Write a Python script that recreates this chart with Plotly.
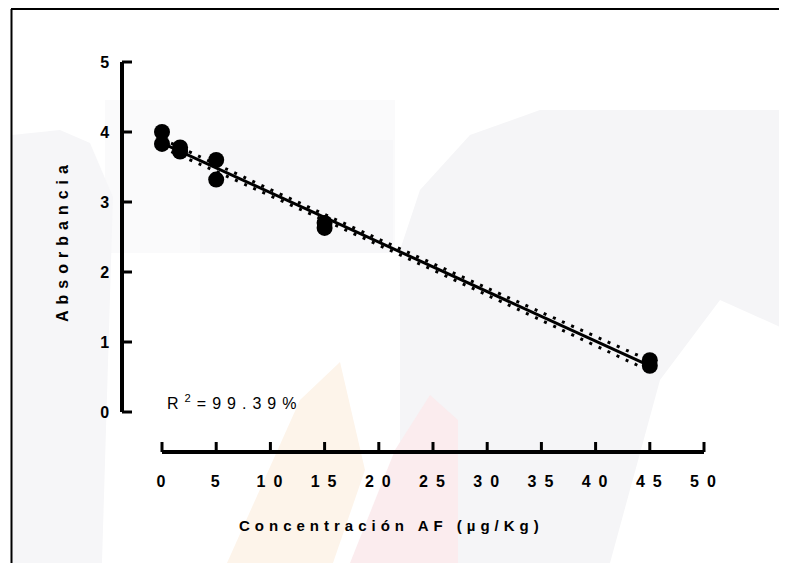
import numpy as np
import plotly.graph_objects as go

# Data
conc = [0, 0, 1.67, 1.67, 5, 5, 15, 15, 45, 45]
absorb = [4.00, 3.83, 3.78, 3.72, 3.60, 3.32, 2.70, 2.63, 0.74, 0.66]
# half-width of the dotted confidence band
band_x = [0, 1.67, 15, 30, 45]
band_half = [0.065, 0.058, 0.042, 0.05, 0.075]
x_ticks = [0, 5, 10, 15, 20, 25, 30, 35, 40, 45, 50]
y_ticks = [0, 1, 2, 3, 4, 5]
r2_text = "R<sup>2</sup>=99.39%"
x_title = "Concentración AF (µg/Kg)"
y_title = "Absorbancia"

x = np.array(conc, dtype=float)
y = np.array(absorb, dtype=float)
slope, intercept = np.polyfit(x, y, 1)
bx = np.array(band_x, dtype=float)
by = slope * bx + intercept
bh = np.array(band_half, dtype=float)
fit_x = [0, 45]
fit_y = [intercept, slope * 45 + intercept]

FONT = "Liberation Sans, Arial, sans-serif"

def spaced(t, px):
    return f'<span style="letter-spacing:{px}px">{t}</span>'

fig = go.Figure()
dotted = dict(color="black", width=3, dash="3px,7px", shape="spline")
fig.add_trace(go.Scatter(x=bx, y=by + bh, mode="lines", line=dotted,
                         hoverinfo="skip", showlegend=False, cliponaxis=False))
fig.add_trace(go.Scatter(x=bx, y=by - bh, mode="lines", line=dotted,
                         hoverinfo="skip", showlegend=False, cliponaxis=False))
fig.add_trace(go.Scatter(x=fit_x, y=fit_y, mode="lines",
                         line=dict(color="black", width=3),
                         hoverinfo="skip", showlegend=False, cliponaxis=False))
fig.add_trace(go.Scatter(x=conc, y=absorb, mode="markers",
                         marker=dict(color="black", size=16, symbol="circle"),
                         showlegend=False, cliponaxis=False))

# page coordinates (the page adds an 8px body margin)
OFF = 8
L, R, T, B = 122, 704, 62, 452          # page px of the outer plot region
W, H = 787, 563
PW, PH = R - L, B - T
def px_x(p):
    return (p - L) / PW
def px_y(p):
    return (B - p) / PH

x0_page, y0_page = 162, 412  # page px where x=0 and y=0 fall
xdom0, ydom0 = px_x(x0_page), px_y(y0_page)
xr = [x_ticks[0], x_ticks[-1]]
yr = [y_ticks[0], y_ticks[-1]]

def xdata_to_paper(v):
    return xdom0 + (v - xr[0]) / (xr[1] - xr[0]) * (1 - xdom0)
def ydata_to_paper(v):
    return ydom0 + (v - yr[0]) / (yr[1] - yr[0]) * (1 - ydom0)

shapes = []
# very faint watermark shapes
wm = [
    ("#fafafb", [(105, 100), (395, 100), (395, 253), (105, 253)]),
    ("#f7f7f9", [(200, 140), (393, 140), (393, 253), (200, 253)]),
    ("#f6f6f8", [(12, 135), (60, 130), (90, 143), (113, 197), (102, 563), (12, 563)]),
    ("#f5f5f7", [(400, 250), (420, 190), (470, 135), (540, 110), (787, 110),
                 (787, 330), (720, 300), (660, 380), (610, 563), (400, 563)]),
    ("#fdf4ea", [(227, 563), (300, 400), (340, 362), (365, 470), (333, 563)]),
    ("#fbecee", [(350, 563), (395, 450), (430, 395), (458, 420), (458, 563)]),
]
for col, pts in wm:
    path = "M " + " L ".join(f"{px_x(a):.4f},{px_y(b):.4f}" for a, b in pts) + " Z"
    shapes.append(dict(type="path", path=path, xref="paper", yref="paper",
                       fillcolor=col, line=dict(width=0), layer="below"))

# frame (left and top lines)
shapes.append(dict(type="line", xref="paper", yref="paper",
                   x0=px_x(11.5), x1=px_x(11.5), y0=px_y(9), y1=px_y(580),
                   line=dict(color="black", width=2)))
shapes.append(dict(type="line", xref="paper", yref="paper",
                   x0=px_x(11), x1=px_x(800), y0=px_y(9), y1=px_y(9),
                   line=dict(color="black", width=2)))

# inside tick marks (Prism style), 10 px long
TL = 10
for v in y_ticks:
    yp = ydata_to_paper(v)
    shapes.append(dict(type="line", xref="paper", yref="paper",
                       x0=0, x1=TL / PW, y0=yp, y1=yp,
                       line=dict(color="black", width=3)))
for v in x_ticks:
    xp = xdata_to_paper(v)
    shapes.append(dict(type="line", xref="paper", yref="paper",
                       x0=xp, x1=xp, y0=0, y1=TL / PH,
                       line=dict(color="black", width=3)))

fig.update_layout(
    width=W, height=H,
    margin=dict(l=L - OFF, r=W - (R - OFF), t=T - OFF, b=H - (B - OFF)),
    paper_bgcolor="white", plot_bgcolor="rgba(0,0,0,0)",
    shapes=shapes,
    font=dict(family=FONT, color="black"),
    xaxis=dict(domain=[xdom0, 1], anchor="free", position=0, range=xr,
               showgrid=False, zeroline=False,
               showline=True, linecolor="black", linewidth=3.5,
               tickmode="array", tickvals=x_ticks,
               ticktext=[spaced(str(v), 8) for v in x_ticks],
               ticks="", ticklabelshift=3,
               tickfont=dict(family=FONT, size=16, weight="bold"),
               ticklabelstandoff=14),
    yaxis=dict(domain=[ydom0, 1], anchor="free", position=0, range=yr,
               showgrid=False, zeroline=False,
               showline=True, linecolor="black", linewidth=3.5,
               tickmode="array", tickvals=y_ticks, ticktext=[str(v) for v in y_ticks],
               ticks="",
               tickfont=dict(family=FONT, size=16, weight="bold"),
               ticklabelstandoff=8),
    annotations=[
        dict(text=spaced(x_title, 5), xref="paper", yref="paper",
             x=px_x(391), y=px_y(525), xanchor="center", yanchor="middle",
             showarrow=False, font=dict(family=FONT, size=15, weight="bold")),
        dict(text=spaced(y_title, 6), xref="paper", yref="paper",
             x=px_x(62), y=px_y(241), xanchor="center", yanchor="middle",
             showarrow=False, textangle=-90,
             font=dict(family=FONT, size=16, weight="bold")),
        dict(text=spaced(r2_text, 6), xref="paper", yref="paper",
             x=px_x(165), y=px_y(402), xanchor="left", yanchor="middle",
             showarrow=False, font=dict(family=FONT, size=16)),
    ],
)

fig.write_html("out.html")
